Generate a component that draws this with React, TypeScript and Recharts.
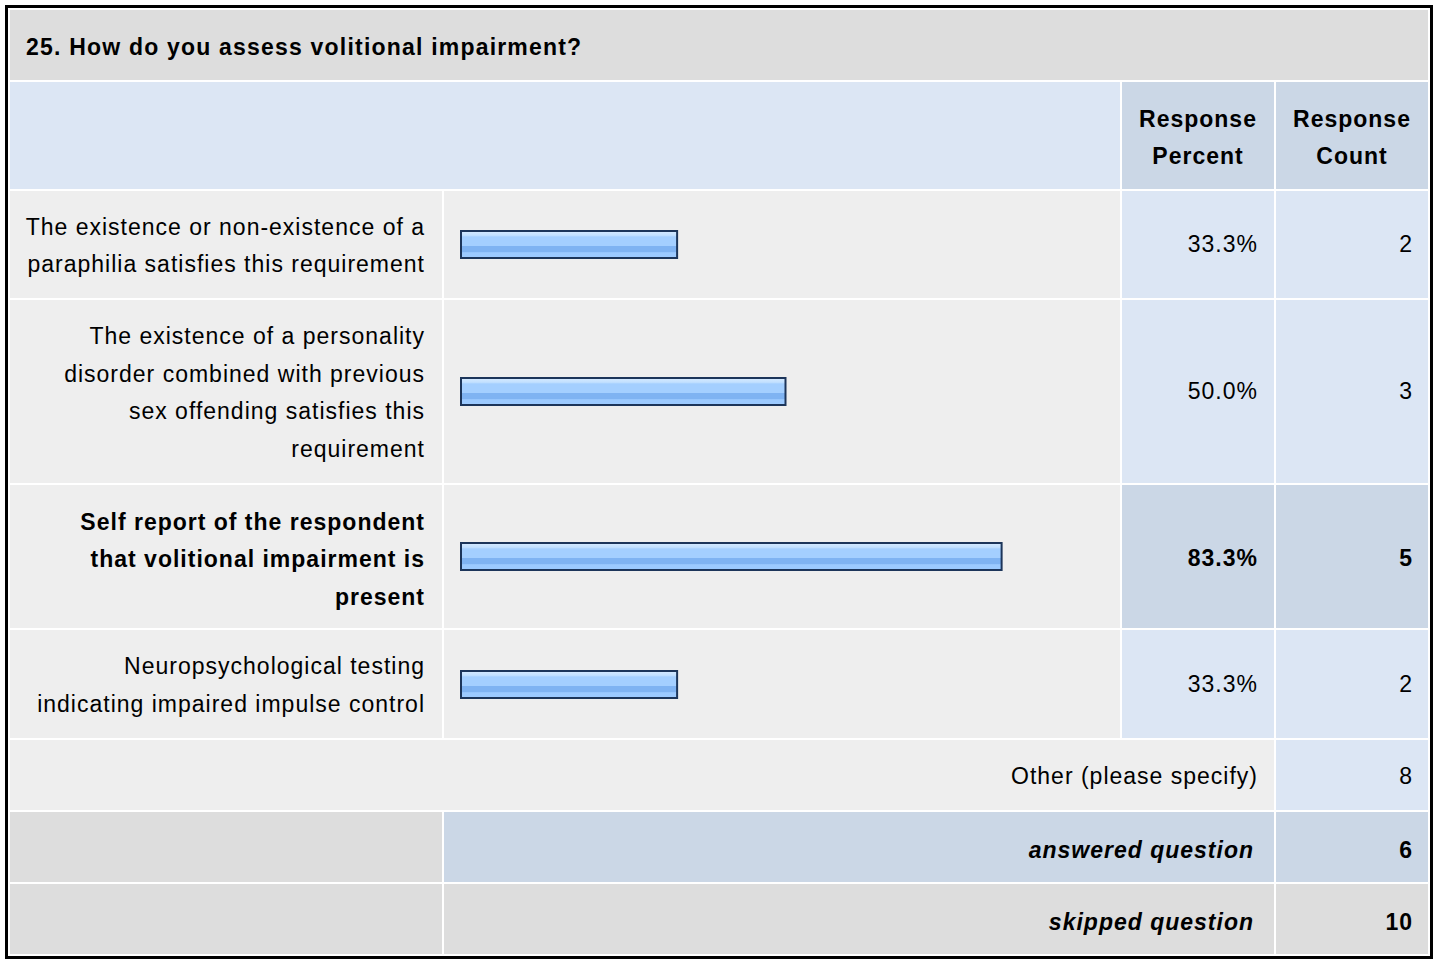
import { BarChart, Bar, XAxis, YAxis } from 'recharts';

const title = '25. How do you assess volitional impairment?';
const answerLabels = [
  'The existence or non-existence of a\nparaphilia satisfies this requirement',
  'The existence of a personality\ndisorder combined with previous\nsex offending satisfies this\nrequirement',
  'Self report of the respondent\nthat volitional impairment is\npresent',
  'Neuropsychological testing\nindicating impaired impulse control',
];
const responsePercent = [33.3, 50.0, 83.3, 33.3];
const responseCount = [2, 3, 5, 2];
const topAnswer = 2;
const otherCount = 8;
const answeredCount = 6;
const skippedCount = 10;

const rowHeights = [107, 183, 143, 108];

const FONT = 'Arial, "Liberation Sans", sans-serif';
const GRAY = '#dddddd';
const LIGHT = '#eeeeee';
const BLUE = '#dce6f4';
const BLUE_DARK = '#cbd7e6';

function cell(bg: string, extra: React.CSSProperties = {}): React.CSSProperties {
  return {
    background: bg,
    display: 'flex',
    alignItems: 'center',
    justifyContent: 'flex-end',
    boxSizing: 'border-box',
    paddingRight: 17,
    ...extra,
  };
}

function RowBar({ idx, height }: { idx: number; height: number }) {
  const data = [{ label: answerLabels[idx], value: responsePercent[idx] }];
  const gid = `barGrad${idx}`;
  return (
    <BarChart width={676} height={height} data={data} layout="vertical" margin={{ top: 0, right: 10, left: 17, bottom: 0 }}>
      <defs>
        <linearGradient id={gid} x1="0" y1="0" x2="0" y2="1">
          <stop offset="0%" stopColor="#d6eaff" />
          <stop offset="16%" stopColor="#c2e0ff" />
          <stop offset="22%" stopColor="#a4cfff" />
          <stop offset="54%" stopColor="#a4cfff" />
          <stop offset="56%" stopColor="#7fb3f2" />
          <stop offset="78%" stopColor="#7fb3f2" />
          <stop offset="80%" stopColor="#9ccaff" />
          <stop offset="100%" stopColor="#9ccaff" />
        </linearGradient>
      </defs>
      <XAxis type="number" domain={[0, 100]} hide />
      <YAxis type="category" dataKey="label" hide />
      <Bar dataKey="value" barSize={27} fill={`url(#${gid})`} stroke="#1c355a" strokeWidth={2} isAnimationActive={false} />
    </BarChart>
  );
}

export default function App() {
  const row = 3;
  const cells: JSX.Element[] = [];
  answerLabels.forEach((label, i) => {
    const r = row + i;
    const bold = i === topAnswer;
    cells.push(
      <div key={`l${i}`} style={{ ...cell(LIGHT, { paddingRight: 17, paddingTop: bold ? 7 : 3, textAlign: 'right', whiteSpace: 'pre-line', lineHeight: '37.5px', fontWeight: bold ? 'bold' : 'normal' }), gridRow: r, gridColumn: 1 }}>
        {label}
      </div>,
      <div key={`b${i}`} style={{ background: LIGHT, gridRow: r, gridColumn: 2 }}>
        <RowBar idx={i} height={rowHeights[i]} />
      </div>,
      <div key={`p${i}`} style={{ ...cell(bold ? BLUE_DARK : BLUE, { paddingRight: 16, paddingTop: bold ? 4 : 0, fontWeight: bold ? 'bold' : 'normal' }), gridRow: r, gridColumn: 3 }}>
        {responsePercent[i].toFixed(1)}%
      </div>,
      <div key={`c${i}`} style={{ ...cell(bold ? BLUE_DARK : BLUE, { paddingRight: 15, paddingTop: bold ? 4 : 0, fontWeight: bold ? 'bold' : 'normal' }), gridRow: r, gridColumn: 4 }}>
        {responseCount[i]}
      </div>
    );
  });

  return (
    <div
      style={{
        position: 'absolute',
        left: 5,
        top: 5,
        border: '3px solid #000',
        background: '#fff',
        padding: 2,
        display: 'grid',
        gridTemplateColumns: '432px 676px 152px 152px',
        gridTemplateRows: `70px 107px ${rowHeights.map((h) => h + 'px').join(' ')} 70px 70px 70px`,
        gap: 2,
        fontFamily: FONT,
        fontSize: 23,
        letterSpacing: 1,
        color: '#000',
      }}
    >
      <div style={{ ...cell(GRAY, { justifyContent: 'flex-start', paddingLeft: 16, paddingTop: 5, fontWeight: 'bold', letterSpacing: 1.2 }), gridRow: 1, gridColumn: '1 / 5' }}>
        {title}
      </div>
      <div style={{ background: BLUE, gridRow: 2, gridColumn: '1 / 3' }} />
      <div style={{ ...cell(BLUE_DARK, { justifyContent: 'center', paddingRight: 0, paddingTop: 5, textAlign: 'center', fontWeight: 'bold', lineHeight: '37px' }), gridRow: 2, gridColumn: 3 }}>
        Response
        <br />
        Percent
      </div>
      <div style={{ ...cell(BLUE_DARK, { justifyContent: 'center', paddingRight: 0, paddingTop: 5, textAlign: 'center', fontWeight: 'bold', lineHeight: '37px' }), gridRow: 2, gridColumn: 4 }}>
        Response
        <br />
        Count
      </div>
      {cells}
      <div style={{ ...cell(LIGHT, { paddingRight: 16, paddingTop: 2 }), gridRow: 7, gridColumn: '1 / 4' }}>Other (please specify)</div>
      <div style={{ ...cell(BLUE, { paddingRight: 15, paddingTop: 2 }), gridRow: 7, gridColumn: 4 }}>{otherCount}</div>
      <div style={{ background: GRAY, gridRow: 8, gridColumn: 1 }} />
      <div style={{ ...cell(BLUE_DARK, { paddingRight: 20, paddingTop: 7, fontWeight: 'bold', fontStyle: 'italic' }), gridRow: 8, gridColumn: '2 / 4' }}>
        answered question
      </div>
      <div style={{ ...cell(BLUE_DARK, { paddingRight: 15, paddingTop: 7, fontWeight: 'bold' }), gridRow: 8, gridColumn: 4 }}>{answeredCount}</div>
      <div style={{ background: GRAY, gridRow: 9, gridColumn: 1 }} />
      <div style={{ ...cell(GRAY, { paddingRight: 20, paddingTop: 7, fontWeight: 'bold', fontStyle: 'italic' }), gridRow: 9, gridColumn: '2 / 4' }}>
        skipped question
      </div>
      <div style={{ ...cell(GRAY, { paddingRight: 15, paddingTop: 7, fontWeight: 'bold' }), gridRow: 9, gridColumn: 4 }}>{skippedCount}</div>
    </div>
  );
}
